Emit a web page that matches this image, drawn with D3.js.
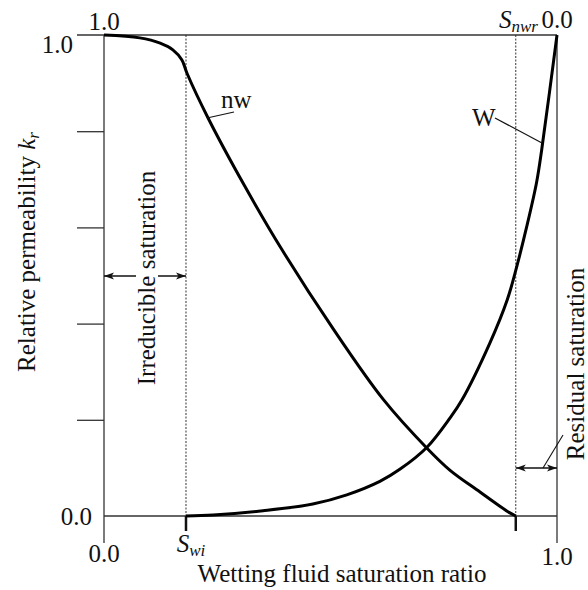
<!DOCTYPE html>
<html>
<head>
<meta charset="utf-8">
<script src="https://cdn.jsdelivr.net/npm/d3@7"></script>
<style>
  body { margin: 0; background: #fff; }
  svg text { font-family: "Liberation Serif", "DejaVu Serif", serif; fill: #111; }
</style>
</head>
<body>
<div id="chart"></div>
<script>
// 饱和度（横轴）与相对渗透率（纵轴）
const nwSat = [0, 0.079, 0.124, 0.152, 0.172, 0.183, 0.230, 0.310, 0.392, 0.506, 0.616, 0.713, 0.764, 0.830, 0.870, 0.895, 0.909];
const nwKr  = [1.0, 0.994, 0.983, 0.969, 0.948, 0.921, 0.827, 0.687, 0.555, 0.389, 0.243, 0.141, 0.095, 0.050, 0.023, 0.007, 0.0];

const wSat = [0.181, 0.241, 0.351, 0.461, 0.536, 0.609, 0.653, 0.713, 0.764, 0.790, 0.852, 0.890, 0.911, 0.933, 0.955, 0.966, 1.0];
const wKr  = [0.0, 0.002, 0.011, 0.025, 0.044, 0.072, 0.097, 0.143, 0.204, 0.241, 0.360, 0.449, 0.518, 0.601, 0.694, 0.760, 1.0];

const Swi = 0.181;
const Snwr = 0.909;
const yTicks = [0.2, 0.4, 0.6, 0.8];

const width = 588, height = 590;
const x = d3.scaleLinear().domain([0, 1]).range([104, 557]);
const y = d3.scaleLinear().domain([0, 1]).range([516, 35]);

const svg = d3.select("#chart").append("svg")
    .attr("width", width)
    .attr("height", height);

const defs = svg.append("defs");
defs.append("marker")
    .attr("id", "arr")
    .attr("viewBox", "0 0 10 10")
    .attr("refX", 10).attr("refY", 5)
    .attr("markerWidth", 10).attr("markerHeight", 10)
    .attr("markerUnits", "userSpaceOnUse")
    .attr("orient", "auto-start-reverse")
    .append("path")
    .attr("d", "M0,1.5 L10,5 L0,8.5 L2.5,5 Z")
    .attr("fill", "#111");

const axisColor = "#333";
const fs = 25;

// 左轴刻度
svg.append("g")
    .attr("transform", `translate(${x(0)},0)`)
    .call(d3.axisLeft(y).tickValues(yTicks).tickSize(27).tickFormat(""))
    .call(g => g.select(".domain").remove())
    .call(g => g.selectAll(".tick line").attr("stroke", axisColor).attr("stroke-width", 1.3));

// 边框
svg.append("line").attr("x1", x(0) - 27).attr("x2", x(1)).attr("y1", y(1)).attr("y2", y(1))
    .attr("stroke", axisColor).attr("stroke-width", 1.3);
svg.append("line").attr("x1", x(0)).attr("x2", x(1)).attr("y1", y(0)).attr("y2", y(0))
    .attr("stroke", axisColor).attr("stroke-width", 1.3);
svg.append("line").attr("x1", x(0)).attr("x2", x(0)).attr("y1", y(1)).attr("y2", y(0) + 27)
    .attr("stroke", axisColor).attr("stroke-width", 1.3);
svg.append("line").attr("x1", x(1)).attr("x2", x(1)).attr("y1", y(1)).attr("y2", y(0) + 27)
    .attr("stroke", axisColor).attr("stroke-width", 1.3);

// 虚线 Swi, Snwr
[Swi, Snwr].forEach(s => {
    svg.append("line")
        .attr("x1", x(s)).attr("x2", x(s))
        .attr("y1", y(1)).attr("y2", y(0))
        .attr("stroke", "#333").attr("stroke-width", 1)
        .attr("stroke-dasharray", "2,1.5");
    svg.append("line")
        .attr("x1", x(s)).attr("x2", x(s))
        .attr("y1", y(0)).attr("y2", y(0) + 15)
        .attr("stroke", "#111").attr("stroke-width", 2.5);
});

// 曲线
const line = d3.line().x(d => x(d[0])).y(d => y(d[1])).curve(d3.curveCatmullRom.alpha(0.5));
svg.append("path")
    .datum(d3.zip(nwSat, nwKr))
    .attr("fill", "none").attr("stroke", "#000").attr("stroke-width", 3)
    .attr("d", line);
svg.append("path")
    .datum(d3.zip(wSat, wKr))
    .attr("fill", "none").attr("stroke", "#000").attr("stroke-width", 3)
    .attr("d", line);

// 曲线标注
svg.append("line").attr("x1", 207).attr("y1", 118).attr("x2", 234).attr("y2", 112)
    .attr("stroke", "#111").attr("stroke-width", 1.2);
svg.append("text").attr("x", 221).attr("y", 108).attr("font-size", fs).text("nw");
svg.append("line").attr("x1", 495).attr("y1", 118).attr("x2", 542).attr("y2", 143)
    .attr("stroke", "#111").attr("stroke-width", 1.2);
svg.append("text").attr("x", 472).attr("y", 126).attr("font-size", fs).text("W");

// 刻度标签
svg.append("text").attr("x", 73).attr("y", 53).attr("text-anchor", "end").attr("font-size", fs).text("1.0");
svg.append("text").attr("x", 92).attr("y", 525).attr("text-anchor", "end").attr("font-size", fs).text("0.0");
svg.append("text").attr("x", x(0)).attr("y", 30).attr("text-anchor", "middle").attr("font-size", fs).text("1.0");
svg.append("text").attr("x", x(1)).attr("y", 28).attr("text-anchor", "middle").attr("font-size", fs).text("0.0");
svg.append("text").attr("x", x(0)).attr("y", 562).attr("text-anchor", "middle").attr("font-size", fs).text("0.0");
svg.append("text").attr("x", x(1)).attr("y", 565).attr("text-anchor", "middle").attr("font-size", fs).text("1.0");

// S_wi, S_nwr
const swi = svg.append("text").attr("x", x(Swi) + 5).attr("y", 552).attr("text-anchor", "middle").attr("font-size", fs);
swi.append("tspan").attr("font-style", "italic").text("S");
swi.append("tspan").attr("font-style", "italic").attr("font-size", 17).attr("dy", 4).text("wi");
const snwr = svg.append("text").attr("x", 538).attr("y", 28).attr("text-anchor", "end").attr("font-size", fs);
snwr.append("tspan").attr("font-style", "italic").text("S");
snwr.append("tspan").attr("font-style", "italic").attr("font-size", 17).attr("dy", 4).text("nwr");

// 轴标题
svg.append("text").attr("x", 342).attr("y", 582).attr("text-anchor", "middle").attr("font-size", fs)
    .text("Wetting fluid saturation ratio");
const yl = svg.append("text").attr("transform", "translate(35,252) rotate(-90)")
    .attr("text-anchor", "middle").attr("font-size", fs);
yl.append("tspan").text("Relative permeability ");
yl.append("tspan").attr("font-style", "italic").text("k");
yl.append("tspan").attr("font-style", "italic").attr("font-size", 17).attr("dy", 4).text("r");

// 不可约饱和度
const ay = 276;
svg.append("line").attr("x1", x(Swi)).attr("x2", x(0)).attr("y1", ay).attr("y2", ay)
    .attr("stroke", "#111").attr("stroke-width", 1.3)
    .attr("marker-start", "url(#arr)").attr("marker-end", "url(#arr)");
const irrG = svg.append("g");
const irr = irrG.append("text").attr("transform", "translate(155,278) rotate(-90)")
    .attr("text-anchor", "middle").attr("font-size", fs).text("Irreducible saturation");
const bb = irr.node().getBBox();
irrG.insert("rect", "text")
    .attr("transform", "translate(155,278) rotate(-90)")
    .attr("x", bb.x).attr("y", bb.y + 3).attr("width", bb.width).attr("height", bb.height - 5)
    .attr("fill", "#fff");

// 残余饱和度
const ry = 468;
svg.append("line").attr("x1", x(Snwr)).attr("x2", x(1)).attr("y1", ry).attr("y2", ry)
    .attr("stroke", "#111").attr("stroke-width", 1.3)
    .attr("marker-start", "url(#arr)").attr("marker-end", "url(#arr)");
svg.append("line").attr("x1", 543).attr("y1", ry).attr("x2", 563).attr("y2", 435)
    .attr("stroke", "#111").attr("stroke-width", 1.1);
svg.append("text").attr("transform", "translate(584,364) rotate(-90)")
    .attr("text-anchor", "middle").attr("font-size", fs).text("Residual saturation");
</script>
</body>
</html>
